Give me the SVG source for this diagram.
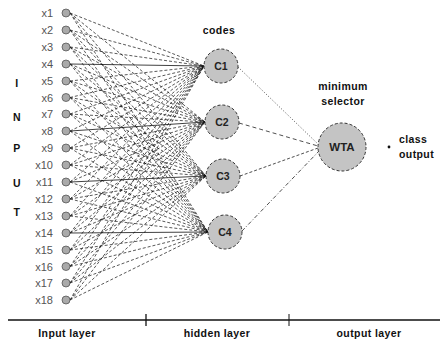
<svg xmlns="http://www.w3.org/2000/svg" width="440" height="340" viewBox="0 0 440 340">
<style>
text{font-family:"Liberation Sans",Arial,sans-serif;fill:#111}
.b{font-weight:bold;font-size:10.5px;letter-spacing:0.4px}
.xl{font-size:11px;fill:#555;text-anchor:end}
.in{fill:#aaa;stroke:#555;stroke-width:0.8}
.hid{fill:#c4c4c4;stroke:#333;stroke-width:1;stroke-dasharray:3,2}
.c{font-size:10.5px;font-weight:bold;text-anchor:middle;fill:#222}
.w{fill:none;stroke:#111;stroke-width:0.7;stroke-dasharray:3,2}
.s{fill:none;stroke:#111;stroke-width:0.8}
</style>
<rect width="440" height="340" fill="#fff"/>
<g id="connectors">
<path class="w" d="M70 13L204 66M70 30L204 66M70 47L204 66M70 81L204 66M70 97.5L204 66M70 114L204 66M70 131L204 66M70 148L204 66M70 165L204 66M70 182L204 66M70 199L204 66M70 216L204 66M70 233L204 66M70 250L204 66M70 266.5L204 66M70 283L204 66M70 300L204 66"/>
<path class="w" d="M70 13L205 122M70 30L205 122M70 47L205 122M70 64L205 122M70 81L205 122M70 97.5L205 122M70 114L205 122M70 148L205 122M70 165L205 122M70 182L205 122M70 199L205 122M70 216L205 122M70 233L205 122M70 250L205 122M70 266.5L205 122M70 283L205 122M70 300L205 122"/>
<path class="w" d="M70 13L206 176M70 30L206 176M70 47L206 176M70 64L206 176M70 81L206 176M70 97.5L206 176M70 114L206 176M70 131L206 176M70 148L206 176M70 165L206 176M70 199L206 176M70 216L206 176M70 233L206 176M70 250L206 176M70 266.5L206 176M70 283L206 176M70 300L206 176"/>
<path class="w" d="M70 13L208 232M70 30L208 232M70 47L208 232M70 64L208 232M70 81L208 232M70 97.5L208 232M70 114L208 232M70 131L208 232M70 148L208 232M70 165L208 232M70 182L208 232M70 199L208 232M70 216L208 232M70 250L208 232M70 266.5L208 232M70 283L208 232M70 300L208 232"/>
<path class="s" d="M70 64L204 66M70 131L205 122M70 182L206 176M70 233L208 232"/>
<path fill="none" stroke="#222" stroke-width="0.8" stroke-dasharray="1,2" d="M238 67L319 145"/>
<path fill="none" stroke="#222" stroke-width="0.8" stroke-dasharray="4,3" d="M239 123L318 146"/>
<path fill="none" stroke="#222" stroke-width="0.8" stroke-dasharray="3,2" d="M240 176L318 148"/>
<path fill="none" stroke="#222" stroke-width="0.8" stroke-dasharray="4,2,1,2" d="M242 231L320 150"/>
</g>
<g id="inputs">
<circle class="in" cx="66" cy="13" r="4"/><text class="xl" x="53" y="17">x1</text>
<circle class="in" cx="66" cy="30" r="4"/><text class="xl" x="53" y="34">x2</text>
<circle class="in" cx="66" cy="47" r="4"/><text class="xl" x="53" y="51">x3</text>
<circle class="in" cx="66" cy="64" r="4"/><text class="xl" x="53" y="68">x4</text>
<circle class="in" cx="66" cy="81" r="4"/><text class="xl" x="53" y="85">x5</text>
<circle class="in" cx="66" cy="97.5" r="4"/><text class="xl" x="53" y="101.5">x6</text>
<circle class="in" cx="66" cy="114" r="4"/><text class="xl" x="53" y="118">x7</text>
<circle class="in" cx="66" cy="131" r="4"/><text class="xl" x="53" y="135">x8</text>
<circle class="in" cx="66" cy="148" r="4"/><text class="xl" x="53" y="152">x9</text>
<circle class="in" cx="66" cy="165" r="4"/><text class="xl" x="53" y="169">x10</text>
<circle class="in" cx="66" cy="182" r="4"/><text class="xl" x="53" y="186">x11</text>
<circle class="in" cx="66" cy="199" r="4"/><text class="xl" x="53" y="203">x12</text>
<circle class="in" cx="66" cy="216" r="4"/><text class="xl" x="53" y="220">x13</text>
<circle class="in" cx="66" cy="233" r="4"/><text class="xl" x="53" y="237">x14</text>
<circle class="in" cx="66" cy="250" r="4"/><text class="xl" x="53" y="254">x15</text>
<circle class="in" cx="66" cy="266.5" r="4"/><text class="xl" x="53" y="270.5">x16</text>
<circle class="in" cx="66" cy="283" r="4"/><text class="xl" x="53" y="287">x17</text>
<circle class="in" cx="66" cy="300" r="4"/><text class="xl" x="53" y="304">x18</text>
</g>
<g id="input-letters">
<text class="b" x="17" y="87" text-anchor="middle">I</text>
<text class="b" x="17" y="121" text-anchor="middle">N</text>
<text class="b" x="17" y="152" text-anchor="middle">P</text>
<text class="b" x="17" y="187" text-anchor="middle">U</text>
<text class="b" x="17" y="216" text-anchor="middle">T</text>
</g>
<g id="C1"><circle class="hid" cx="221" cy="66" r="17"/><text class="c" x="221" y="70">C1</text></g>
<g id="C2"><circle class="hid" cx="222" cy="122" r="17"/><text class="c" x="222" y="126">C2</text></g>
<g id="C3"><circle class="hid" cx="223" cy="176" r="17"/><text class="c" x="223" y="180">C3</text></g>
<g id="C4"><circle class="hid" cx="225" cy="232" r="17"/><text class="c" x="225" y="236">C4</text></g>
<text class="b" x="219" y="34" text-anchor="middle">codes</text>
<g id="WTA"><circle class="hid" cx="342" cy="147" r="24"/><text class="c" x="342" y="151" style="font-size:11.5px">WTA</text></g>
<text class="b" x="343" y="90" text-anchor="middle">minimum</text>
<text class="b" x="343" y="105" text-anchor="middle">selector</text>
<g id="class-output">
<circle cx="389" cy="147" r="1.4" fill="#111"/>
<text class="b" x="399" y="143">class</text>
<text class="b" x="399" y="158">output</text>
</g>
<g id="axis">
<line x1="8" y1="320" x2="440" y2="320" stroke="#111" stroke-width="1.6"/>
<line x1="146" y1="314" x2="146" y2="326" stroke="#111" stroke-width="1.3"/>
<line x1="289" y1="314" x2="289" y2="326" stroke="#111" stroke-width="1"/>
<text class="b" x="67" y="337" text-anchor="middle">Input layer</text>
<text class="b" x="217" y="337" text-anchor="middle">hidden layer</text>
<text class="b" x="369" y="337" text-anchor="middle">output layer</text>
</g>
</svg>
